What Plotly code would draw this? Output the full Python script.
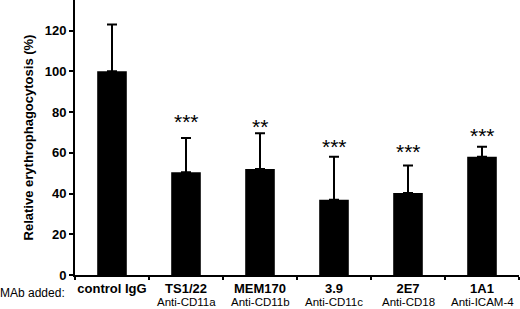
import plotly.graph_objects as go

categories = ["control IgG", "TS1/22", "MEM170", "3.9", "2E7", "1A1"]
targets = ["", "Anti-CD11a", "Anti-CD11b", "Anti-CD11c", "Anti-CD18", "Anti-ICAM-4"]
values = [100, 50.5, 52, 37, 40.3, 58]
errors_plus = [23, 16.8, 17.6, 21, 13.5, 4.9]
stars = ["", "***", "**", "***", "***", "***"]
star_y = [0, 77.5, 75, 65.2, 62.7, 70.6]
yticks = [0, 20, 40, 60, 80, 100, 120]

FONT = "Liberation Sans, Arial, sans-serif"

fig = go.Figure()
fig.add_trace(go.Bar(
    x=categories, y=values, width=0.4,
    marker=dict(color="black", line=dict(width=0)),
    error_y=dict(type="data", array=errors_plus, arrayminus=[0]*len(values),
                 symmetric=False, color="black", thickness=2, width=5),
))

for i, (s, y) in enumerate(zip(stars, star_y)):
    if s:
        fig.add_annotation(x=i, y=y, text=s, showarrow=False,
                           font=dict(family=FONT, size=21, color="black"),
                           xanchor="center", yanchor="middle", yshift=-4)

for i, t in enumerate(targets):
    if t:
        fig.add_annotation(x=i, y=0, yref="paper", text=t, showarrow=False,
                           font=dict(family=FONT, size=11.5, color="black"),
                           xanchor="center", yanchor="top", yshift=-19.5,
                           borderpad=0)

fig.add_annotation(x=0, xref="paper", xanchor="right", xshift=-9,
                   y=0, yref="paper", yanchor="top", yshift=-10,
                   text="MAb added:", showarrow=False, borderpad=0,
                   font=dict(family=FONT, size=12, color="black"))

fig.update_layout(
    width=520, height=309,
    margin=dict(l=75, r=1, t=0, b=34, autoexpand=False),
    plot_bgcolor="white", paper_bgcolor="white",
    showlegend=False,
    font=dict(family=FONT, color="black"),
)
fig.update_xaxes(
    type="category",
    tickmode="array", tickvals=categories, ticktext=categories, tickangle=0,
    tickfont=dict(family=FONT, size=13, color="black", weight="bold"),
    showline=True, linecolor="black", linewidth=2,
    ticks="outside", tickson="boundaries", ticklen=3, tickwidth=2, tickcolor="black",
    showgrid=False, range=[-0.5, 5.5], automargin=False,
)
fig.update_yaxes(
    range=[0, 135], tickvals=yticks,
    tickfont=dict(family=FONT, size=13, color="black", weight="bold"),
    showline=True, linecolor="black", linewidth=2,
    ticks="outside", ticklen=4, tickwidth=2, tickcolor="black",
    showgrid=False, zeroline=False, automargin=False,
    title=dict(text="<b>Relative erythrophagocytosis (%)</b>",
               font=dict(family=FONT, size=13, color="black"), standoff=8),
)

fig.write_html("out.html", config={"displayModeBar": False},
               post_script="document.body.style.margin='0';")
